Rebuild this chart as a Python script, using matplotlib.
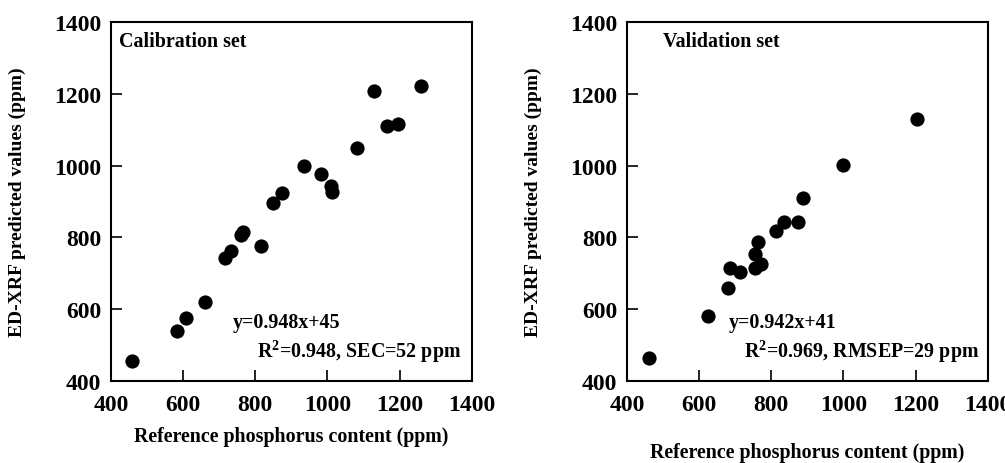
import matplotlib
matplotlib.use("Agg")
from matplotlib import pyplot as plt

plt.rcParams['font.family'] = ['Liberation Serif', 'DejaVu Serif']
plt.rcParams['font.weight'] = 'bold'
plt.rcParams['mathtext.fontset'] = 'custom'
plt.rcParams['mathtext.rm'] = 'Liberation Serif:bold'
plt.rcParams['mathtext.bf'] = 'Liberation Serif:bold'

# calibration set (reference vs predicted, ppm)
cal_ref = [458, 583, 607, 662, 716, 732, 761, 767, 815, 850, 874, 935, 981, 1009, 1013, 1081, 1129, 1164, 1195, 1258]
cal_pred = [456, 539, 576, 620, 744, 762, 806, 814, 776, 897, 925, 999, 976, 943, 927, 1050, 1208, 1110, 1115, 1222]

# validation set
val_ref = [462, 624, 679, 686, 713, 754, 754, 770, 763, 814, 836, 875, 888, 999, 1203]
val_pred = [465, 581, 660, 716, 705, 753, 716, 725, 788, 818, 843, 844, 909, 1002, 1129]

ticks = [400, 600, 800, 1000, 1200, 1400]

panels = [
    (cal_ref, cal_pred, "Calibration set", 422, "y=0.948x+45", 738,
     r"R$^{\mathbf{2}}$=0.948, SEC=52 ppm", 1370, -0.153),
    (val_ref, val_pred, "Validation set", 500, "y=0.942x+41", 681,
     r"R$^{\mathbf{2}}$=0.969, RMSEP=29 ppm", 1378, -0.198),
]

fig = plt.figure(figsize=(10.05, 4.64), dpi=100)
lefts = [0.1104, 0.6239]

for left, (xs, ys, title, tx, eq, ex, r2, rx, xl_y) in zip(lefts, panels):
    ax = fig.add_axes([left, 0.1767, 0.359, 0.7737])
    ax.scatter(xs, ys, s=105, color='black', zorder=3, linewidths=0)
    ax.set_xlim(400, 1400)
    ax.set_ylim(400, 1400)
    ax.set_xticks(ticks)
    ax.set_yticks(ticks)
    ax.tick_params(direction='in', length=8, width=1.2, labelsize=17,
                   top=False, right=False)
    ax.tick_params(axis='x', pad=9)
    ax.tick_params(axis='y', pad=7)
    for s in ax.spines.values():
        s.set_linewidth(1.5)
    ax.text(tx, 1347, title, fontsize=14.4, fontweight='bold', ha='left', va='center')
    ax.text(ex, 564, eq, fontsize=14.4, fontweight='bold', ha='left', va='center')
    ax.text(rx, 484, r2, fontsize=14.4, fontweight='bold', ha='right', va='center')
    ax.set_xlabel("Reference phosphorus content (ppm)", fontsize=14.4, fontweight='bold')
    ax.xaxis.label.set_va('center')
    ax.xaxis.set_label_coords(0.5, xl_y)
    ax.set_ylabel("ED-XRF predicted values (ppm)", fontsize=14, fontweight='bold')
    ax.yaxis.label.set_va('center')
    ax.yaxis.set_label_coords(-0.26, 0.5)

fig.savefig("out.png", dpi=100)
